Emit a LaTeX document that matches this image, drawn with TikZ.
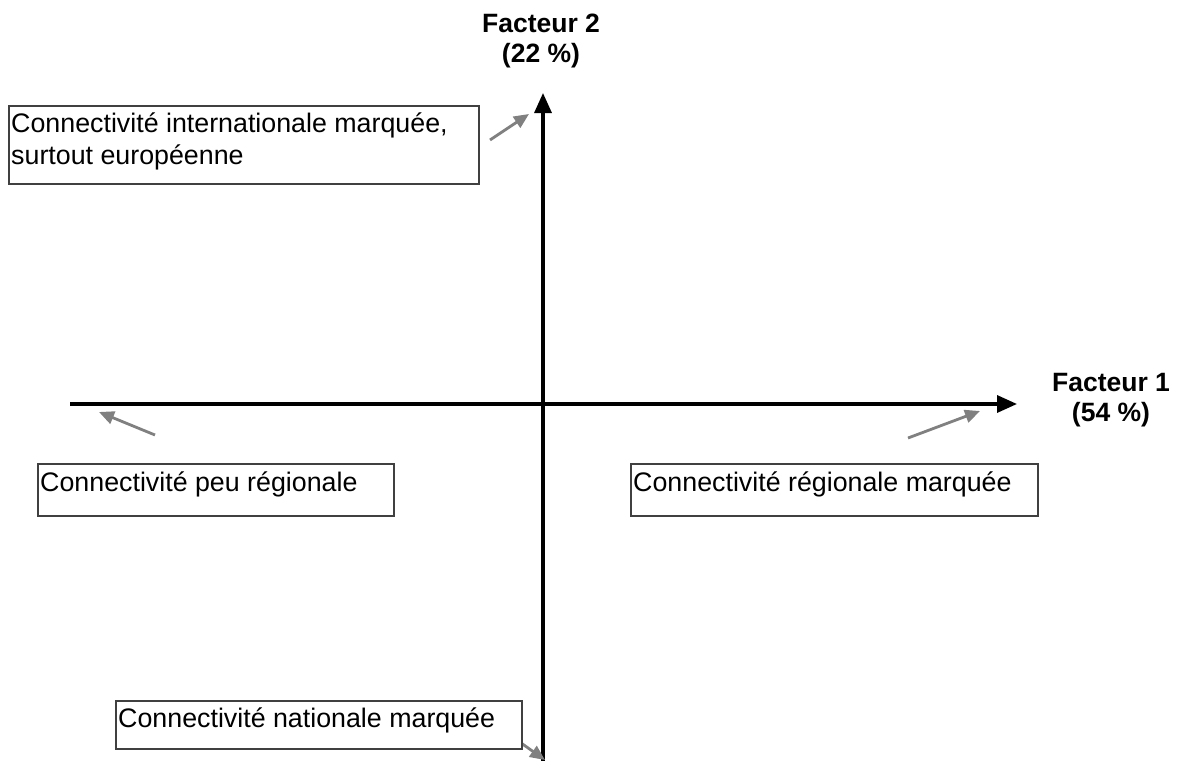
\documentclass[tikz,border=0pt]{standalone}
\usepackage{fontspec}
\setmainfont{Liberation Sans}
\usetikzlibrary{arrows.meta, positioning}
\tikzset{
  infobox/.style={rectangle, draw=black!75, line width=1.8pt, fill=white,
                  inner sep=0pt, anchor=north west},
  infotext/.style={anchor=north west, inner sep=0pt, align=left,
                   font=\fontsize{26.8}{32}\selectfont},
  axisarr/.style={-{Triangle[length=20pt, width=17pt]}, line width=3.3pt},
  hintarr/.style={-{Triangle[length=15pt, width=13pt]}, line width=2.8pt, gray},
  axislabel/.style={anchor=north, inner sep=0pt, align=center,
                    font=\fontsize{26.5}{30}\selectfont\bfseries},
}

\begin{document}
\begin{tikzpicture}[x=1pt, y=-1pt]
  \useasboundingbox (0,0) rectangle (1180,760);

  % Axes
  \coordinate (xstart) at (70,404);
  \coordinate (xend) at (1017,404);
  \coordinate (ystart) at (543,780);
  \coordinate (yend) at (543,93);
  \draw [axisarr] (xstart) -- (xend);
  \draw [axisarr] (ystart) -- (yend);

  \node [axislabel] (f2) at (541,14) {Facteur 2\\(22 \%)};
  \node [axislabel] (f1) at (1111,373) {Facteur 1\\(54 \%)};

  % Direction hints
  \coordinate (intfrom) at (490,140);
  \coordinate (intto) at (529,114);
  \coordinate (peufrom) at (155,435);
  \coordinate (peuto) at (99,412);
  \coordinate (regfrom) at (908,438);
  \coordinate (regto) at (980,411);
  \coordinate (natfrom) at (500,728);
  \coordinate (natto) at (545,760);
  \draw [hintarr] (intfrom) -- (intto);
  \draw [hintarr] (peufrom) -- (peuto);
  \draw [hintarr] (regfrom) -- (regto);
  \draw [hintarr] (natfrom) -- (natto);

  % Boxes
  \node [infobox, minimum width=470pt, minimum height=78pt,
         label={[infotext, name=tint, xshift=3pt, yshift=-8pt]north west:{Connectivité internationale marquée,\\surtout européenne}}]
    (bint) at (8,105) {};
  \node [infobox, minimum width=356pt, minimum height=52pt,
         label={[infotext, name=tpeu, xshift=3pt, yshift=-9pt]north west:{Connectivité peu régionale}}]
    (bpeu) at (37,463) {};
  \node [infobox, minimum width=407pt, minimum height=52pt,
         label={[infotext, name=treg, xshift=3pt, yshift=-9pt]north west:{Connectivité régionale marquée}}]
    (breg) at (630,463) {};
  \node [infobox, minimum width=406pt, minimum height=48pt,
         label={[infotext, name=tnat, xshift=3pt, yshift=-8pt]north west:{Connectivité nationale marquée}}]
    (bnat) at (115,700) {};
\end{tikzpicture}
\end{document}
